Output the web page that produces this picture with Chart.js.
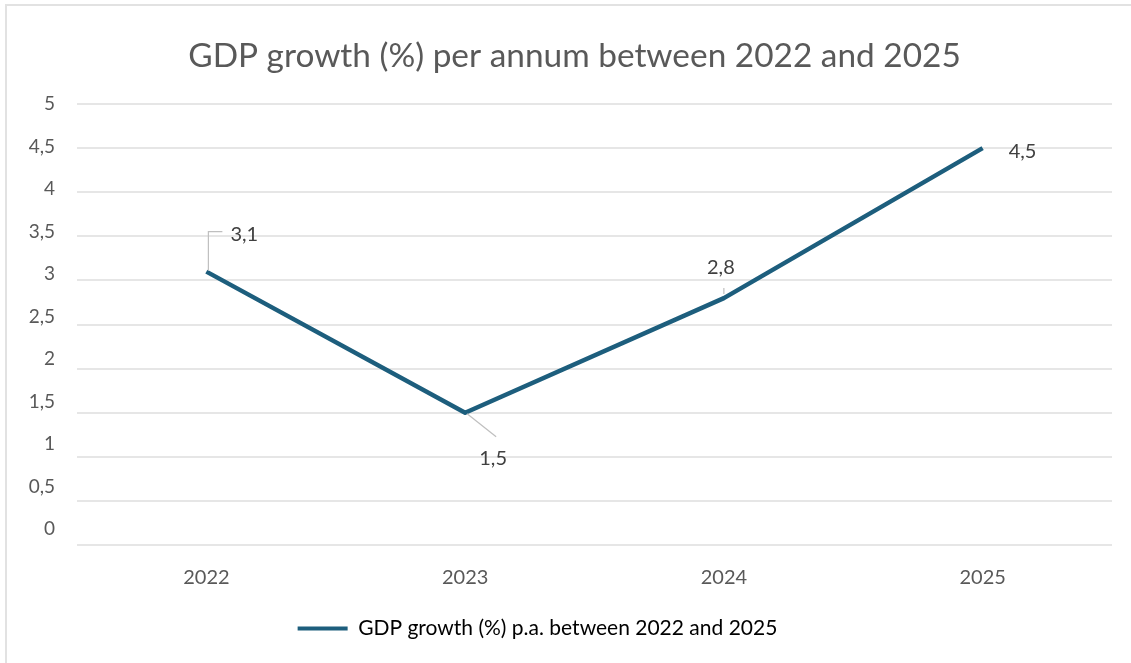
<!DOCTYPE html>
<html>
<head>
<meta charset="utf-8">
<script src="https://cdn.jsdelivr.net/npm/chart.js@4.4.0/dist/chart.umd.min.js"></script>
<style>
  html, body { margin: 0; padding: 0; background: #ffffff; overflow: hidden; }
  #wrap { position: relative; width: 1131px; height: 663px; }
  #wrap canvas { position: absolute; left: 0; top: 0; }
  #frame {
    position: absolute; left: 5px; top: 4px; right: -20px; bottom: -20px;
    border-top: 2px solid #e2e2e2; border-left: 2px solid #e2e2e2;
    pointer-events: none;
  }
</style>
</head>
<body>
<div id="wrap">
  <canvas id="c" width="1131" height="663"></canvas>
  <div id="frame"></div>
</div>
<script>
// Data
const years = ['2022', '2023', '2024', '2025'];
const gdpGrowth = [3.1, 1.5, 2.8, 4.5];
const yTickValues = [0, 0.5, 1, 1.5, 2, 2.5, 3, 3.5, 4, 4.5, 5];
const seriesName = 'GDP growth (%) p.a. between 2022 and 2025';
const chartTitle = 'GDP growth (%) per annum between 2022 and 2025';

const FONT = 'Lato, "Open Sans", "DejaVu Sans", sans-serif';
const LINE_COLOR = '#1d5e7d';
const TEXT_COLOR = '#595959';
const LABEL_COLOR = '#404040';

const decimalComma = v => String(v).replace('.', ',');

// Where each value label sits relative to its point, and how its leader line runs
const labelPlacement = [
  { dx: 24, dy: -37, align: 'left',   leader: [[2, -1], [2, -40], [16, -40]] },
  { dx: 28, dy: 46,  align: 'center', leader: [[2, 1], [31, 24]] },
  { dx: -3, dy: -31, align: 'center', leader: [[0, -4], [0, -10]] },
  { dx: 26, dy: 3,   align: 'left',   leader: null }
];

const valueLabels = {
  id: 'valueLabels',
  afterDatasetsDraw(chart) {
    const ctx = chart.ctx;
    const meta = chart.getDatasetMeta(0);
    const values = chart.data.datasets[0].data;
    ctx.save();
    meta.data.forEach((pt, i) => {
      const p = labelPlacement[i];
      if (p.leader) {
        ctx.beginPath();
        ctx.strokeStyle = '#bfbfbf';
        ctx.lineWidth = 1.2;
        p.leader.forEach(([lx, ly], k) => {
          if (k === 0) ctx.moveTo(pt.x + lx, pt.y + ly);
          else ctx.lineTo(pt.x + lx, pt.y + ly);
        });
        ctx.stroke();
      }
      ctx.fillStyle = LABEL_COLOR;
      ctx.font = '20px ' + FONT;
      ctx.textAlign = p.align;
      ctx.textBaseline = 'middle';
      ctx.fillText(decimalComma(values[i]), pt.x + p.dx, pt.y + p.dy);
    });
    ctx.restore();
  }
};

// Title and legend are nudged off the plot's centre line
const boxShift = {
  id: 'boxShift',
  afterLayout(chart) {
    const lg = chart.legend;
    if (lg) { lg.left -= 27; lg.right -= 27; lg.top -= 3; lg.bottom -= 3; }
    const tt = chart.titleBlock;
    if (tt) { tt.left += 10; tt.right += 10; }
  }
};

new Chart(document.getElementById('c'), {
  type: 'line',
  data: {
    labels: years,
    datasets: [{
      label: seriesName,
      data: gdpGrowth,
      borderColor: LINE_COLOR,
      backgroundColor: LINE_COLOR,
      borderWidth: 4.5,
      borderJoinStyle: 'round',
      borderCapStyle: 'butt',
      tension: 0,
      pointRadius: 0,
      pointHoverRadius: 0,
      fill: false
    }]
  },
  options: {
    responsive: false,
    animation: false,
    events: [],
    layout: { padding: { left: 17, right: 19, top: 0, bottom: 11 } },
    plugins: {
      title: {
        display: true,
        text: chartTitle,
        color: TEXT_COLOR,
        font: { family: FONT, size: 33.4, weight: 'normal' },
        padding: { top: 36, bottom: 28 }
      },
      legend: {
        display: true,
        position: 'bottom',
        labels: {
          color: TEXT_COLOR,
          font: { family: FONT, size: 21 },
          boxWidth: 50,
          boxHeight: 4,
          padding: 20,
          generateLabels: chart => [{
            text: seriesName,
            fillStyle: LINE_COLOR,
            strokeStyle: LINE_COLOR,
            lineWidth: 0,
            datasetIndex: 0
          }]
        }
      },
      tooltip: { enabled: false }
    },
    scales: {
      x: {
        type: 'category',
        offset: true,
        grid: { display: false, drawTicks: false },
        border: { display: false },
        ticks: {
          color: TEXT_COLOR,
          font: { family: FONT, size: 20 },
          padding: 21,
          maxRotation: 0
        },
        afterFit: s => { s.height = 56; }
      },
      y: {
        position: 'left',
        min: 0,
        max: 5,
        grid: { color: '#e6e6e6', lineWidth: 2, drawTicks: false },
        border: { display: false },
        ticks: { display: false, stepSize: 0.5 },
        afterBuildTicks: s => { s.ticks = yTickValues.map(v => ({ value: v })); },
        afterFit: s => { s.width = 0; }
      },
      yLabels: {
        position: 'left',
        min: -0.19,
        max: 5,
        grid: { display: false, drawTicks: false },
        border: { display: false },
        ticks: {
          color: TEXT_COLOR,
          font: { family: FONT, size: 19 },
          padding: 22,
          callback: v => decimalComma(v)
        },
        afterBuildTicks: s => { s.ticks = yTickValues.map(v => ({ value: v })); },
        afterFit: s => { s.width = 60; }
      }
    }
  },
  plugins: [valueLabels, boxShift]
});
</script>
</body>
</html>
